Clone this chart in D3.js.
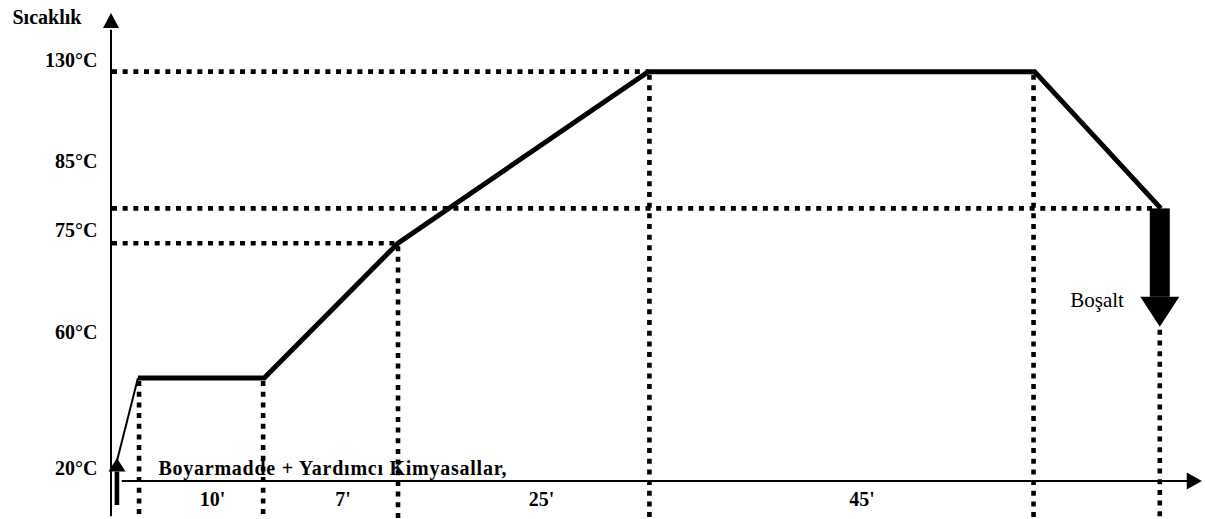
<!DOCTYPE html>
<html>
<head>
<meta charset="utf-8">
<script src="https://cdn.jsdelivr.net/npm/d3@7"></script>
<style>
html,body{margin:0;padding:0;background:#fff;}
svg{display:block;}
text{font-family:"Liberation Serif","Times New Roman",serif;fill:#000;}
</style>
</head>
<body>
<svg id="chart" width="1205" height="519"></svg>
<script>
// ---- data (schematic units: time 0..100, temperature level 0..100) ----
const profileTime  = [0.5, 2.5, 14.2, 26.6, 49.8, 85.6, 97.3];
const profileLevel = [3.8, 21.9, 21.9, 50.6, 87.1, 87.1, 58.0];

const markTime   = [2.6, 14.1, 26.6, 49.9, 85.5, 97.2];   // vertical dotted guides
const markTop    = [21.9, 21.9, 50.6, 87.1, 87.1, 32.8];

const guideLevel = [87.1, 58.0, 50.6];                      // horizontal dotted guides
const guideEnd   = [49.8, 97.2, 26.6];

const tempLabels      = ["130°C", "85°C", "75°C", "60°C", "20°C"];
const tempLabelLevels = [88.1, 66.6, 51.9, 30.2, 1.3];

const durationLabels = ["10'", "7'", "25'", "45'"];
const durationTimes  = [9.4, 21.5, 39.9, 69.6];

const yAxisTitle   = "Sıcaklık";
const additionText = "Boyarmadde + Yardımcı Kimyasallar,";
const additionTime = 4.4, additionLevel = 1.3;
const drainText    = "Boşalt";
const drainTextTime = 88.9, drainTextLevel = 37.1;
const drainTime = 97.2, drainTop = 58.0, drainShaftEnd = 39.2, drainTip = 32.8;
const startArrowTime = 0.55, startTip = 4.9, startHeadBase = 2.0, startTail = -5.1;

// ---- scales ----
const svg = d3.select("#chart");
const x = d3.scaleLinear().domain([0, 100]).range([111, 1190]);
const y = d3.scaleLinear().domain([0, 100]).range([481, 11]);

// ---- dotted guides ----
const dotStyle = sel => sel.attr("stroke", "#000").attr("stroke-width", 4.6)
  .attr("stroke-dasharray", "5,5.67").attr("fill", "none");

guideLevel.forEach((lv, i) => {
  svg.append("line").attr("x1", x(0) + 1).attr("x2", x(guideEnd[i]))
    .attr("y1", y(lv)).attr("y2", y(lv)).call(dotStyle);
});
markTime.forEach((t, i) => {
  svg.append("line").attr("x1", x(t)).attr("x2", x(t))
    .attr("y1", y(markTop[i]) + 3).attr("y2", y(-8.5)).call(dotStyle);
});

// ---- axes ----
svg.append("line").attr("x1", x(0)).attr("x2", x(0))
  .attr("y1", y(-7.5)).attr("y2", y(96)).attr("stroke", "#000").attr("stroke-width", 2);
svg.append("path")
  .attr("d", `M${x(0)},${y(99.6)} L${x(0) - 8},${y(96.4)} L${x(0) + 8},${y(96.4)} Z`)
  .attr("fill", "#000");
svg.append("line").attr("x1", x(1.0)).attr("x2", x(99.8))
  .attr("y1", y(0)).attr("y2", y(0)).attr("stroke", "#000").attr("stroke-width", 2);
svg.append("path")
  .attr("d", `M${x(101.1)},${y(0)} L${x(99.7)},${y(0) - 8.5} L${x(99.7)},${y(0) + 8.5} Z`)
  .attr("fill", "#000");

// ---- temperature profile ----
const pts = profileTime.map((t, i) => [x(t), y(profileLevel[i])]);
svg.append("line")
  .attr("x1", pts[0][0]).attr("y1", pts[0][1]).attr("x2", pts[1][0]).attr("y2", pts[1][1])
  .attr("stroke", "#000").attr("stroke-width", 2);
svg.append("path")
  .attr("d", d3.line()(pts.slice(1)))
  .attr("fill", "none").attr("stroke", "#000").attr("stroke-width", 5)
  .attr("stroke-linejoin", "miter");

// ---- start arrow (dye addition) ----
svg.append("rect")
  .attr("x", x(startArrowTime) - 2.3).attr("width", 4.6)
  .attr("y", y(startHeadBase)).attr("height", y(startTail) - y(startHeadBase))
  .attr("fill", "#000");
svg.append("path")
  .attr("d", `M${x(startArrowTime)},${y(startTip)} L${x(startArrowTime) - 8.5},${y(startHeadBase)} L${x(startArrowTime) + 8.5},${y(startHeadBase)} Z`)
  .attr("fill", "#000");

// ---- drain arrow ----
svg.append("rect")
  .attr("x", x(drainTime) - 10).attr("width", 20)
  .attr("y", y(drainTop)).attr("height", y(drainShaftEnd) - y(drainTop))
  .attr("fill", "#000");
svg.append("path")
  .attr("d", `M${x(drainTime) - 19.5},${y(drainShaftEnd)} L${x(drainTime) + 19.5},${y(drainShaftEnd)} L${x(drainTime)},${y(drainTip)} Z`)
  .attr("fill", "#000");

// ---- text ----
svg.append("text").attr("x", 12.5).attr("y", 24)
  .attr("font-size", 20).attr("font-weight", "bold").text(yAxisTitle);

svg.selectAll("text.tl").data(tempLabels).join("text").attr("class", "tl")
  .attr("x", 97.5).attr("y", (d, i) => y(tempLabelLevels[i]))
  .attr("text-anchor", "end").attr("font-size", 20).attr("font-weight", "bold")
  .text(d => d);

svg.selectAll("text.dl").data(durationLabels).join("text").attr("class", "dl")
  .attr("x", (d, i) => x(durationTimes[i])).attr("y", y(0) + 25)
  .attr("text-anchor", "middle").attr("font-size", 20).attr("font-weight", "bold")
  .text(d => d);

svg.append("text").attr("x", x(additionTime)).attr("y", y(additionLevel))
  .attr("font-size", 20).attr("font-weight", "bold").attr("letter-spacing", 0.75)
  .text(additionText);

svg.append("text").attr("x", x(drainTextTime)).attr("y", y(drainTextLevel))
  .attr("font-size", 21).text(drainText);
</script>
</body>
</html>
